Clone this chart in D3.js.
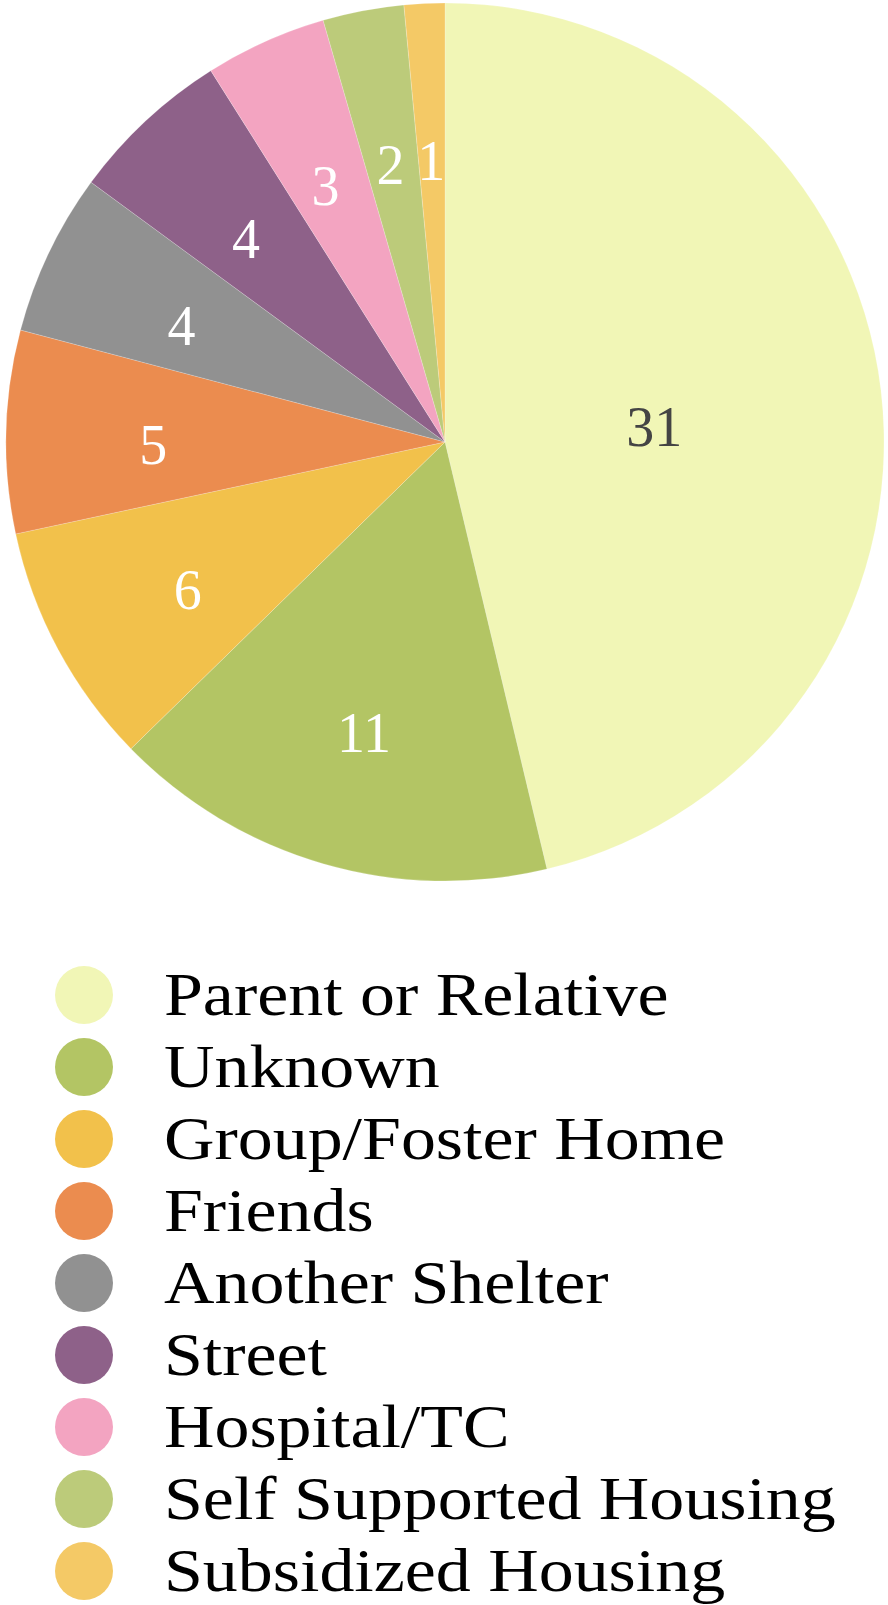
<!DOCTYPE html>
<html>
<head>
<meta charset="utf-8">
<script src="https://cdnjs.cloudflare.com/ajax/libs/d3/7.8.5/d3.min.js"></script>
<style>
  body { margin: 0; background: white; }
  svg { display: block; }
  text { font-family: Georgia, "Liberation Serif", serif; }
</style>
</head>
<body>
<div id="chart"></div>
<script>
var categories = ["Parent or Relative", "Unknown", "Group/Foster Home", "Friends",
                  "Another Shelter", "Street", "Hospital/TC", "Self Supported Housing",
                  "Subsidized Housing"];
var values = [31, 11, 6, 5, 4, 4, 3, 2, 1];
var colors = ["#f1f6b6", "#b3c564", "#f2c14b", "#eb8c4f", "#919191",
              "#8e6189", "#f3a4c1", "#bccb7a", "#f4c966"];

var width = 888, height = 1605;
var cx = 445, cy = 442, radius = 439;

var svg = d3.select("#chart").append("svg")
    .attr("width", width)
    .attr("height", height);

var data = categories.map(function(c, i) { return {name: c, value: values[i], color: colors[i]}; });

var pie = d3.pie().sort(null).value(function(d) { return d.value; });
var arcs = pie(data);

var arc = d3.arc().innerRadius(0).outerRadius(radius);

var g = svg.append("g").attr("transform", "translate(" + cx + "," + cy + ")");

g.selectAll("path.slice")
  .data(arcs)
  .enter().append("path")
    .attr("class", "slice")
    .attr("d", arc)
    .attr("fill", function(d) { return d.data.color; })
    .attr("stroke", "white")
    .attr("stroke-opacity", 0.4)
    .attr("stroke-width", 0.5);

// big slices get their label pulled in toward the centre
function labelArc(d) {
  var span = d.endAngle - d.startAngle;
  var r = span > 2.5 ? radius * 0.48 : radius * 0.665;
  return d3.arc().innerRadius(r).outerRadius(r);
}

g.selectAll("text.val")
  .data(arcs)
  .enter().append("text")
    .attr("class", "val")
    .attr("transform", function(d) {
      var p = labelArc(d).centroid(d);
      return "translate(" + p[0] + "," + p[1] + ")";
    })
    .attr("text-anchor", "middle")
    .attr("dy", "0.52em")
    .attr("font-size", 56)
    .attr("fill", function(d) { return d.index === 0 ? "#444444" : "white"; })
    .text(function(d) { return d.data.value; });

// legend
var legendX = 84, legendY = 995, rowH = 72;

var leg = svg.selectAll("g.legend")
  .data(data)
  .enter().append("g")
    .attr("class", "legend")
    .attr("transform", function(d, i) { return "translate(0," + (legendY + i * rowH) + ")"; });

leg.append("circle")
    .attr("cx", legendX)
    .attr("cy", 0)
    .attr("r", 29)
    .attr("fill", function(d) { return d.color; });

leg.append("text")
    .attr("transform", "translate(164,20) scale(1.165,1.02)")
    .attr("font-size", 60)
    .attr("fill", "black")
    .text(function(d) { return d.name; });
</script>
</body>
</html>
